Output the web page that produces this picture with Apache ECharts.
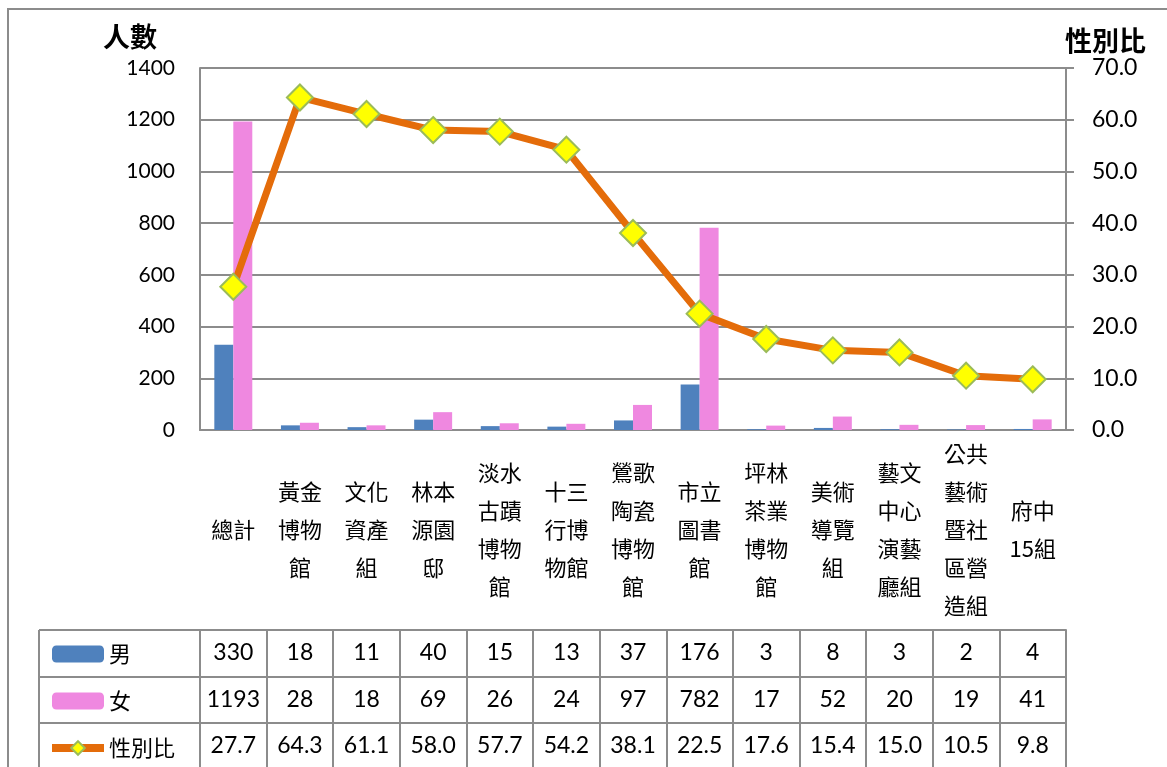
<!DOCTYPE html>
<html>
<head>
<meta charset="utf-8">
<script src="https://cdn.jsdelivr.net/npm/echarts@6/dist/echarts.min.js"></script>
<style>
  html, body { margin: 0; padding: 0; background: #fff; }
  #main { width: 1167px; height: 767px; }
</style>
</head>
<body>
<div id="main"></div>
<script>
// categories (line breaks as in the original labels)
var categories = ['總計', '黃金\n博物\n館', '文化\n資產\n組', '林本\n源園\n邸', '淡水\n古蹟\n博物\n館',
  '十三\n行博\n物館', '鶯歌\n陶瓷\n博物\n館', '市立\n圖書\n館', '坪林\n茶業\n博物\n館', '美術\n導覽\n組',
  '藝文\n中心\n演藝\n廳組', '公共\n藝術\n暨社\n區營\n造組', '府中\n15組'];
var male = [330, 18, 11, 40, 15, 13, 37, 176, 3, 8, 3, 2, 4];
var female = [1193, 28, 18, 69, 26, 24, 97, 782, 17, 52, 20, 19, 41];
var ratio = [27.7, 64.3, 61.1, 58.0, 57.7, 54.2, 38.1, 22.5, 17.6, 15.4, 15.0, 10.5, 9.8];
var leftTicks = { min: 0, max: 1400, interval: 200 };
var rightTicks = { min: 0, max: 70, interval: 10 };

var myChart = echarts.init(document.getElementById('main'));

var gridColor = '#8c8c8c';
var cjk = '"Noto Sans CJK TC", sans-serif';
var num = 'Lato, sans-serif';

// one extra category axis per table row, stacked below the labels
function tableRow(values, offset, fmt) {
    return {
        type: 'category',
        position: 'bottom',
        offset: offset,
        data: values.map(fmt || String),
        axisLine: { show: true, onZero: false, lineStyle: { color: gridColor, width: 2 } },
        axisTick: { show: true, interval: 0, length: 47, lineStyle: { color: gridColor, width: 2 } },
        axisLabel: { interval: 0, margin: 23, verticalAlign: 'middle', color: '#000', fontFamily: num, fontSize: 23 }
    };
}

var option = {
    animation: false,
    title: [
        { text: '人數', left: 98, top: 18, textStyle: { fontFamily: cjk, fontSize: 27, fontWeight: 'bold', color: '#000' } },
        { text: '性別比', left: 1060, top: 22, textStyle: { fontFamily: cjk, fontSize: 27, fontWeight: 'bold', color: '#000' } }
    ],
    legend: {
        orient: 'vertical',
        left: 43,
        top: 638,
        itemWidth: 52,
        itemHeight: 17,
        itemGap: 25,
        data: ['男', '女', { name: '性別比', lineStyle: { width: 8 } }],
        textStyle: { fontFamily: cjk, fontSize: 22, color: '#000' }
    },
    grid: { left: 200, right: 101, top: 68, bottom: 337 },
    xAxis: [
        {
            type: 'category',
            data: categories,
            axisLine: { onZero: false, lineStyle: { color: gridColor, width: 2 } },
            axisTick: { interval: 0, length: 200, lineStyle: { color: gridColor, width: 2 } },
            axisLabel: { interval: 0, margin: 100, verticalAlign: 'middle', lineHeight: 38, color: '#000', fontFamily: cjk, fontSize: 22 }
        },
        tableRow(male, 200),
        tableRow(female, 247),
        tableRow(ratio, 293, function (v) { return v.toFixed(1); })
    ],
    yAxis: [
        {
            type: 'value',
            min: leftTicks.min, max: leftTicks.max, interval: leftTicks.interval,
            axisLine: { show: true, lineStyle: { color: gridColor, width: 2 } },
            axisTick: { show: false },
            splitLine: { lineStyle: { color: gridColor, width: 2 } },
            axisLabel: { margin: 25, color: '#000', fontFamily: num, fontSize: 21,
                formatter: function (v) { return String(v); } }
        },
        {
            type: 'value',
            min: rightTicks.min, max: rightTicks.max, interval: rightTicks.interval,
            axisLine: { show: true, lineStyle: { color: gridColor, width: 2 } },
            axisTick: { show: true, length: 8, lineStyle: { color: gridColor, width: 2 } },
            splitLine: { show: false },
            axisLabel: { margin: 26, color: '#000', fontFamily: num, fontSize: 23,
                formatter: function (v) { return v.toFixed(1); } }
        }
    ],
    series: [
        { name: '男', type: 'bar', data: male, barGap: '0%', barCategoryGap: '43%',
          itemStyle: { color: '#4F81BD' } },
        { name: '女', type: 'bar', data: female, itemStyle: { color: '#EF88E0' } },
        { name: '性別比', type: 'line', yAxisIndex: 1, data: ratio, z: 5,
          symbol: 'diamond', symbolSize: 26,
          lineStyle: { color: '#E46C0A', width: 7 },
          itemStyle: { color: '#FFFF00', borderColor: '#9BBB59', borderWidth: 2 } }
    ],
    graphic: [
        { type: 'rect', shape: { x: 8, y: 9, width: 1200, height: 800 }, silent: true,
          style: { fill: null, stroke: gridColor, lineWidth: 2 }, z: -1 },
        { type: 'line', shape: { x1: 39, y1: 630, x2: 200, y2: 630 }, style: { stroke: gridColor, lineWidth: 2 } },
        { type: 'line', shape: { x1: 39, y1: 677, x2: 200, y2: 677 }, style: { stroke: gridColor, lineWidth: 2 } },
        { type: 'line', shape: { x1: 39, y1: 723, x2: 200, y2: 723 }, style: { stroke: gridColor, lineWidth: 2 } },
        { type: 'line', shape: { x1: 39, y1: 630, x2: 39, y2: 780 }, style: { stroke: gridColor, lineWidth: 2 } }
    ]
};
myChart.setOption(option);
</script>
</body>
</html>
